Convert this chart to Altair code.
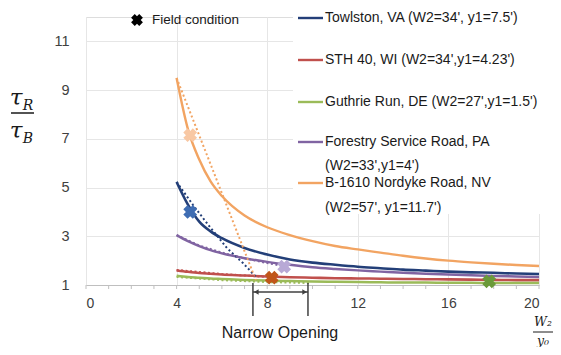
import altair as alt
import pandas as pd

# ---------------- data ----------------
x_grid = [4, 4.5, 5, 5.5, 6, 7, 8, 9, 10, 11, 12, 13, 14, 15, 16, 17, 18, 19, 20]
towlston = [5.23, 4.3, 3.6, 3.2, 2.92, 2.52, 2.25, 2.05, 1.92, 1.83, 1.75, 1.69, 1.63, 1.59, 1.55, 1.52, 1.5, 1.47, 1.45]
sth40 = [1.6, 1.54, 1.49, 1.46, 1.43, 1.39, 1.35, 1.32, 1.3, 1.28, 1.27, 1.26, 1.25, 1.24, 1.23, 1.22, 1.21, 1.2, 1.2]
guthrie = [1.38, 1.33, 1.3, 1.27, 1.25, 1.21, 1.18, 1.16, 1.14, 1.13, 1.12, 1.11, 1.1, 1.1, 1.09, 1.09, 1.08, 1.08, 1.08]
forestry = [3.05, 2.8, 2.6, 2.43, 2.3, 2.1, 1.95, 1.83, 1.73, 1.66, 1.6, 1.55, 1.5, 1.46, 1.43, 1.4, 1.37, 1.35, 1.33]
nordyke = [9.5, 7.4, 6.15, 5.25, 4.65, 3.85, 3.37, 3.05, 2.8, 2.6, 2.46, 2.33, 2.2, 2.09, 2.0, 1.93, 1.87, 1.82, 1.78]

# dotted (trend) lines
dot_towlston_x = [4, 4.72, 5.47, 6.22, 6.93, 7.55]
dot_towlston_y = [5.23, 4.29, 3.38, 2.52, 1.9, 1.29]
dot_nordyke_x = [4, 5.6, 7.33, 7.5]
dot_nordyke_y = [9.5, 5.72, 1.6, 1.2]
dot_forestry_x = [4, 5, 6, 7, 8, 8.6]
dot_forestry_y = [3.05, 2.62, 2.33, 2.1, 1.9, 1.8]
dot_sth40_x = [4, 6, 8.2]
dot_sth40_y = [1.62, 1.45, 1.32]
dot_guthrie_x = [4, 6, 8, 9.9]
dot_guthrie_y = [1.33, 1.2, 1.12, 1.08]

# field conditions
field_names = ["Towlston", "Nordyke", "Forestry", "STH 40", "Guthrie"]
field_x = [4.6, 4.6, 8.75, 8.2, 17.8]
field_y = [4.0, 7.15, 1.75, 1.3, 1.15]
field_colors = ["#3F6DB3", "#F8C8A4", "#B8A9D6", "#C0561A", "#6B9A3A"]

series = ["Towlston", "STH 40", "Guthrie", "Forestry", "Nordyke"]
series_colors = ["#233F78", "#C0504D", "#9BBB59", "#8064A2", "#F2A462"]
series_widths = [2.6, 2.4, 2.4, 2.4, 1.9]

legend_labels = ["Towlston, VA (W2=34', y1=7.5')", "STH 40, WI (W2=34',y1=4.23')",
                 "Guthrie Run, DE (W2=27',y1=1.5')", "Forestry Service Road, PA",
                 "B-1610 Nordyke Road, NV"]
legend_extra = ["(W2=33',y1=4')", "(W2=57', y1=11.7')"]

x_ticks = [0, 4, 8, 12, 16, 20]
y_ticks = [1, 3, 5, 7, 9, 11]
minor_ticks = list(range(0, 21))
bracket_x = [7.37, 9.8]

# ---------------- frames ----------------
vals = {"Towlston": towlston, "STH 40": sth40, "Guthrie": guthrie, "Forestry": forestry, "Nordyke": nordyke}
solid = pd.DataFrame([{"series": s, "x": x, "y": v, "o": i}
                      for s in ["Nordyke", "Forestry", "Towlston", "STH 40", "Guthrie"]
                      for i, (x, v) in enumerate(zip(x_grid, vals[s]))])
dots = {"Towlston": (dot_towlston_x, dot_towlston_y), "Nordyke": (dot_nordyke_x, dot_nordyke_y),
        "Forestry": (dot_forestry_x, dot_forestry_y), "STH 40": (dot_sth40_x, dot_sth40_y),
        "Guthrie": (dot_guthrie_x, dot_guthrie_y)}
dotted = pd.DataFrame([{"series": s, "x": x, "y": v, "o": i}
                       for s, (xs_, ys_) in dots.items() for i, (x, v) in enumerate(zip(xs_, ys_))])
field = pd.DataFrame({"name": field_names, "x": field_x, "y": field_y, "c": field_colors})

color = alt.Color("series:N", scale=alt.Scale(domain=series, range=series_colors), legend=None)
swidth = alt.StrokeWidth("series:N", scale=alt.Scale(domain=series, range=series_widths), legend=None)
xs = alt.Scale(domain=[0, 20], nice=False)
ys = alt.Scale(domain=[1, 12], nice=False)

FONT = "Liberation Sans"
xenc = alt.X("x:Q", scale=xs, axis=alt.Axis(values=x_ticks, grid=True, gridColor="#E6E6E6",
                                             domainColor="#BFBFBF", ticks=False, labelFont=FONT,
                                             labelFontSize=14, labelColor="#404040", labelPadding=11,
                                             title=None))
yenc = alt.Y("y:Q", scale=ys, axis=alt.Axis(values=y_ticks, grid=True, gridColor="#E6E6E6",
                                             domain=False, ticks=False, labelFont=FONT,
                                             labelFontSize=14.5, labelColor="#404040", labelPadding=17,
                                             title=None))

one = pd.DataFrame({"a": [0]})

legend_box = alt.Chart(one).mark_rect(color="white").encode(
    x=alt.value(207), x2=alt.value(480), y=alt.value(-17), y2=alt.value(197))

base_axes = alt.Chart(solid).mark_line(opacity=0).encode(x=xenc, y=yenc)

solid_lines = alt.Chart(solid).mark_line(interpolate="monotone").encode(
    x=alt.X("x:Q", scale=xs), y=alt.Y("y:Q", scale=ys), color=color, strokeWidth=swidth,
    order="o:Q", detail="series:N")

dotted_lines = alt.Chart(dotted).mark_line(strokeWidth=2, strokeDash=[2, 2.5]).encode(
    x=alt.X("x:Q", scale=xs), y=alt.Y("y:Q", scale=ys), color=color, order="o:Q",
    detail="series:N")

XPATH = ("M1,0.38 L0.38,1 L0,0.62 L-0.38,1 L-1,0.38 L-0.62,0 L-1,-0.38 L-0.38,-1 "
         "L0,-0.62 L0.38,-1 L1,-0.38 L0.62,0 Z")
markers = alt.Chart(field).mark_point(shape=XPATH, filled=True, size=190, opacity=1).encode(
    x=alt.X("x:Q", scale=xs), y=alt.Y("y:Q", scale=ys),
    color=alt.Color("c:N", scale=None))

minor = alt.Chart(pd.DataFrame({"x": minor_ticks})).mark_rule(color="#BFBFBF", strokeWidth=1).encode(
    x=alt.X("x:Q", scale=xs), y=alt.value(268), y2=alt.value(272))

bracket = alt.Chart(pd.DataFrame({"x": bracket_x})).mark_rule(color="#404040", strokeWidth=1.5).encode(
    x=alt.X("x:Q", scale=xs), y=alt.value(266), y2=alt.value(299))
arrow_line = alt.Chart(pd.DataFrame({"x": [bracket_x[0]], "x2": [bracket_x[1]]})).mark_rule(
    color="#404040", strokeWidth=1.3).encode(
    x=alt.X("x:Q", scale=xs), x2="x2:Q", y=alt.value(275))
arrow_heads = alt.Chart(pd.DataFrame({"x": [bracket_x[0] + 0.15, bracket_x[1] - 0.15],
                                      "s": ["triangle-left", "triangle-right"]})).mark_point(
    filled=True, size=28, color="#404040", opacity=1).encode(
    x=alt.X("x:Q", scale=xs), y=alt.value(275), shape=alt.Shape("s:N", scale=None))

# legend (right)
leg_rows = pd.DataFrame({"series": series, "label": legend_labels, "py": [1, 43, 85, 125, 166]})
leg_lines = alt.Chart(leg_rows).mark_rule(strokeWidth=2.4).encode(
    x=alt.value(212), x2=alt.value(237), y=alt.Y("py:Q", scale=None), color=color)
leg_text = alt.Chart(leg_rows).mark_text(align="left", baseline="middle", font=FONT, fontSize=14,
                                          color="#1a1a1a").encode(
    x=alt.value(239), y=alt.Y("py:Q", scale=None), text="label:N")
leg_extra = alt.Chart(pd.DataFrame({"label": legend_extra, "py": [149, 191]})).mark_text(
    align="left", baseline="middle", font=FONT, fontSize=14, color="#1a1a1a").encode(
    x=alt.value(239), y=alt.Y("py:Q", scale=None), text="label:N")

# field condition legend
fc_mark = alt.Chart(one).mark_point(shape=XPATH, filled=True, size=140, color="black", opacity=1).encode(
    x=alt.value(51), y=alt.value(3))
fc_text = alt.Chart(one).mark_text(align="left", baseline="middle", font=FONT, fontSize=13.5,
                                   color="#1a1a1a").encode(
    x=alt.value(66), y=alt.value(3), text=alt.value("Field condition"))

# axis titles
def txt(s, x, y, size, font=FONT, style="normal", align="center"):
    return alt.Chart(one).mark_text(align=align, baseline="middle", font=font, fontSize=size,
                                    fontStyle=style, color="#1a1a1a").encode(
        x=alt.value(x), y=alt.value(y), text=alt.value(s))

SERIF = "DejaVu Serif"
ytitle = [
    txt("τ", -70, 81, 23, SERIF, "italic"),
    txt("R", -58, 89, 14, SERIF, "italic"),
    txt("τ", -70, 114, 23, SERIF, "italic"),
    txt("B", -58, 122, 14, SERIF, "italic"),
]
ytitle_bar = alt.Chart(one).mark_rule(color="#1a1a1a", strokeWidth=1.5).encode(
    x=alt.value(-75), x2=alt.value(-52), y=alt.value(96))

xtitle = txt("Narrow Opening", 194, 316, 16)
wtitle = [
    txt("W₂", 457, 305, 12.5, SERIF, "italic"),
    txt("y₀", 457, 324, 12.5, SERIF, "italic"),
]
wbar = alt.Chart(one).mark_rule(color="#1a1a1a", strokeWidth=1).encode(
    x=alt.value(447), x2=alt.value(467), y=alt.value(315))

chart = alt.layer(
    base_axes, legend_box, minor, solid_lines, dotted_lines, markers,
    bracket, arrow_line, arrow_heads,
    leg_lines, leg_text, leg_extra, fc_mark, fc_text,
    *ytitle, ytitle_bar, xtitle, *wtitle, wbar
).properties(
    width=453, height=268,
    autosize=alt.AutoSizeParams(type="none"),
    padding={"left": 78, "top": 9, "right": 14, "bottom": 62},
).configure_view(stroke=None).configure(background="white")

chart.save("out.html", embed_options={"renderer": "svg", "actions": False})
